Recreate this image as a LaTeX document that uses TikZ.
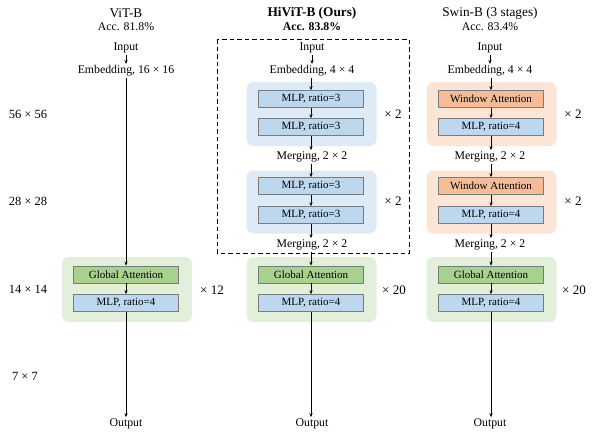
\documentclass[tikz,border=0pt]{standalone}
\usepackage{fontspec}
\setmainfont{Liberation Serif}
\usetikzlibrary{arrows.meta}
\definecolor{bluebg}{HTML}{DEEAF6}
\definecolor{bluebox}{HTML}{BDD7EE}
\definecolor{greenbg}{HTML}{E2EFDA}
\definecolor{greenbox}{HTML}{A9D18E}
\definecolor{orangebg}{HTML}{FBE5D6}
\definecolor{orangebox}{HTML}{F6BC98}
\definecolor{boxline}{HTML}{7A7A7A}
\begin{document}
\begin{tikzpicture}[x=1pt,y=-1pt,
  lbl/.style={inner sep=1.5pt,font=\fontsize{11.8}{13}\selectfont},
  ttl/.style={inner sep=1pt,font=\fontsize{13.3}{15}\selectfont},
  rowlbl/.style={inner sep=1pt,font=\fontsize{12.5}{14}\selectfont},
  mult/.style={inner sep=1pt,font=\fontsize{13}{15}\selectfont},
  blk/.style={draw=boxline,line width=0.6pt,minimum width=105pt,minimum height=17pt,inner sep=0pt,font=\fontsize{11}{12}\selectfont},
  mlpbox/.style={blk,fill=bluebox},
  gabox/.style={blk,fill=greenbox},
  wabox/.style={blk,fill=orangebox},
  bgbox/.style={rounded corners=7pt,draw=none,minimum width=130pt,inner sep=0pt},
  arr/.style={-{Stealth[length=4pt,width=3.2pt]},line width=0.7pt}
]
\useasboundingbox (0,0) rectangle (595,437);

% row labels
\node[rowlbl] (r56) at (28,114) {56 × 56};
\node[rowlbl] (r28) at (28,201) {28 × 28};
\node[rowlbl] (r14) at (28,289) {14 × 14};
\node[rowlbl] (r7) at (25,376) {7 × 7};

% ===== ViT-B =====
\node[ttl] (vt) at (126,13) {ViT-B};
\node[lbl] (vacc) at (126,27) {Acc. 81.8\%};
\node[lbl] (vin) at (126,48) {Input};
\node[lbl] (vemb) at (126,71) {Embedding, 16 × 16};
\node[bgbox,fill=greenbg,minimum height=65pt] (vbg) at (127,289.5) {};
\node[gabox] (vga) at (126,274.5) {Global Attention};
\node[mlpbox] (vmlp) at (126,303) {MLP, ratio=4};
\node[mult] (vx) at (212,290) {× 12};
\node[lbl] (vout) at (126,424) {Output};
\draw[arr] (vin) -- (vemb);
\draw[arr] (vemb) -- (vga);
\draw[arr] (vga) -- (vmlp);
\draw[arr] (vmlp) -- (vout);

% ===== HiViT-B =====
\node[ttl,font=\fontsize{13.3}{15}\selectfont\bfseries] (ht) at (312,13) {HiViT-B (Ours)};
\node[lbl,font=\fontsize{11.8}{13}\selectfont\bfseries] (hacc) at (312,27) {Acc. 83.8\%};
\draw[line width=0.8pt,dash pattern=on 4.5pt off 3pt] (217,39) rectangle (409,253);
\node[lbl] (hin) at (312,48) {Input};
\node[lbl] (hemb) at (312,71) {Embedding, 4 × 4};
\node[bgbox,fill=bluebg,minimum height=64pt] (hbg1) at (311.5,114) {};
\node[mlpbox] (h1) at (311,99) {MLP, ratio=3};
\node[mlpbox] (h2) at (311,127) {MLP, ratio=3};
\node[mult] (hx1) at (393,114) {× 2};
\node[lbl] (hm1) at (312,157) {Merging, 2 × 2};
\node[bgbox,fill=bluebg,minimum height=63pt] (hbg2) at (311.5,202) {};
\node[mlpbox] (h3) at (311,186) {MLP, ratio=3};
\node[mlpbox] (h4) at (311,215) {MLP, ratio=3};
\node[mult] (hx2) at (393,201) {× 2};
\node[lbl] (hm2) at (312,245) {Merging, 2 × 2};
\node[bgbox,fill=greenbg,minimum height=65pt] (hbg3) at (311.5,289.5) {};
\node[gabox] (hga) at (311,274.5) {Global Attention};
\node[mlpbox] (hmlp) at (311,303) {MLP, ratio=4};
\node[mult] (hx3) at (394,290) {× 20};
\node[lbl] (hout) at (312,424) {Output};
\draw[arr] (hin) -- (hemb);
\draw[arr] (hemb.south -| h1.north) -- (h1.north);
\draw[arr] (h1) -- (h2);
\draw[arr] (h2.south) -- (h2.south |- hm1.north);
\draw[arr] (hm1.south -| h3.north) -- (h3.north);
\draw[arr] (h3) -- (h4);
\draw[arr] (h4.south) -- (h4.south |- hm2.north);
\draw[arr] (hm2.south -| hga.north) -- (hga.north);
\draw[arr] (hga) -- (hmlp);
\draw[arr] (hmlp.south) -- (hmlp.south |- hout.north);

% ===== Swin-B =====
\node[ttl] (st) at (490,13) {Swin-B (3 stages)};
\node[lbl] (sacc) at (490,27) {Acc. 83.4\%};
\node[lbl] (sin) at (490,48) {Input};
\node[lbl] (semb) at (490,71) {Embedding, 4 × 4};
\node[bgbox,fill=orangebg,minimum height=64pt] (sbg1) at (491.5,114) {};
\node[wabox] (s1) at (491,99) {Window Attention};
\node[mlpbox] (s2) at (491,127) {MLP, ratio=4};
\node[mult] (sx1) at (573,114) {× 2};
\node[lbl] (sm1) at (490,157) {Merging, 2 × 2};
\node[bgbox,fill=orangebg,minimum height=63pt] (sbg2) at (491.5,202) {};
\node[wabox] (s3) at (491,186) {Window Attention};
\node[mlpbox] (s4) at (491,215) {MLP, ratio=4};
\node[mult] (sx2) at (573,201) {× 2};
\node[lbl] (sm2) at (490,245) {Merging, 2 × 2};
\node[bgbox,fill=greenbg,minimum height=65pt] (sbg3) at (491.5,289.5) {};
\node[gabox] (sga) at (491,274.5) {Global Attention};
\node[mlpbox] (smlp) at (491,303) {MLP, ratio=4};
\node[mult] (sx3) at (574,290) {× 20};
\node[lbl] (sout) at (490,424) {Output};
\draw[arr] (sin) -- (semb);
\draw[arr] (semb.south -| s1.north) -- (s1.north);
\draw[arr] (s1) -- (s2);
\draw[arr] (s2.south) -- (s2.south |- sm1.north);
\draw[arr] (sm1.south -| s3.north) -- (s3.north);
\draw[arr] (s3) -- (s4);
\draw[arr] (s4.south) -- (s4.south |- sm2.north);
\draw[arr] (sm2.south -| sga.north) -- (sga.north);
\draw[arr] (sga) -- (smlp);
\draw[arr] (smlp.south) -- (smlp.south |- sout.north);
\end{tikzpicture}
\end{document}
